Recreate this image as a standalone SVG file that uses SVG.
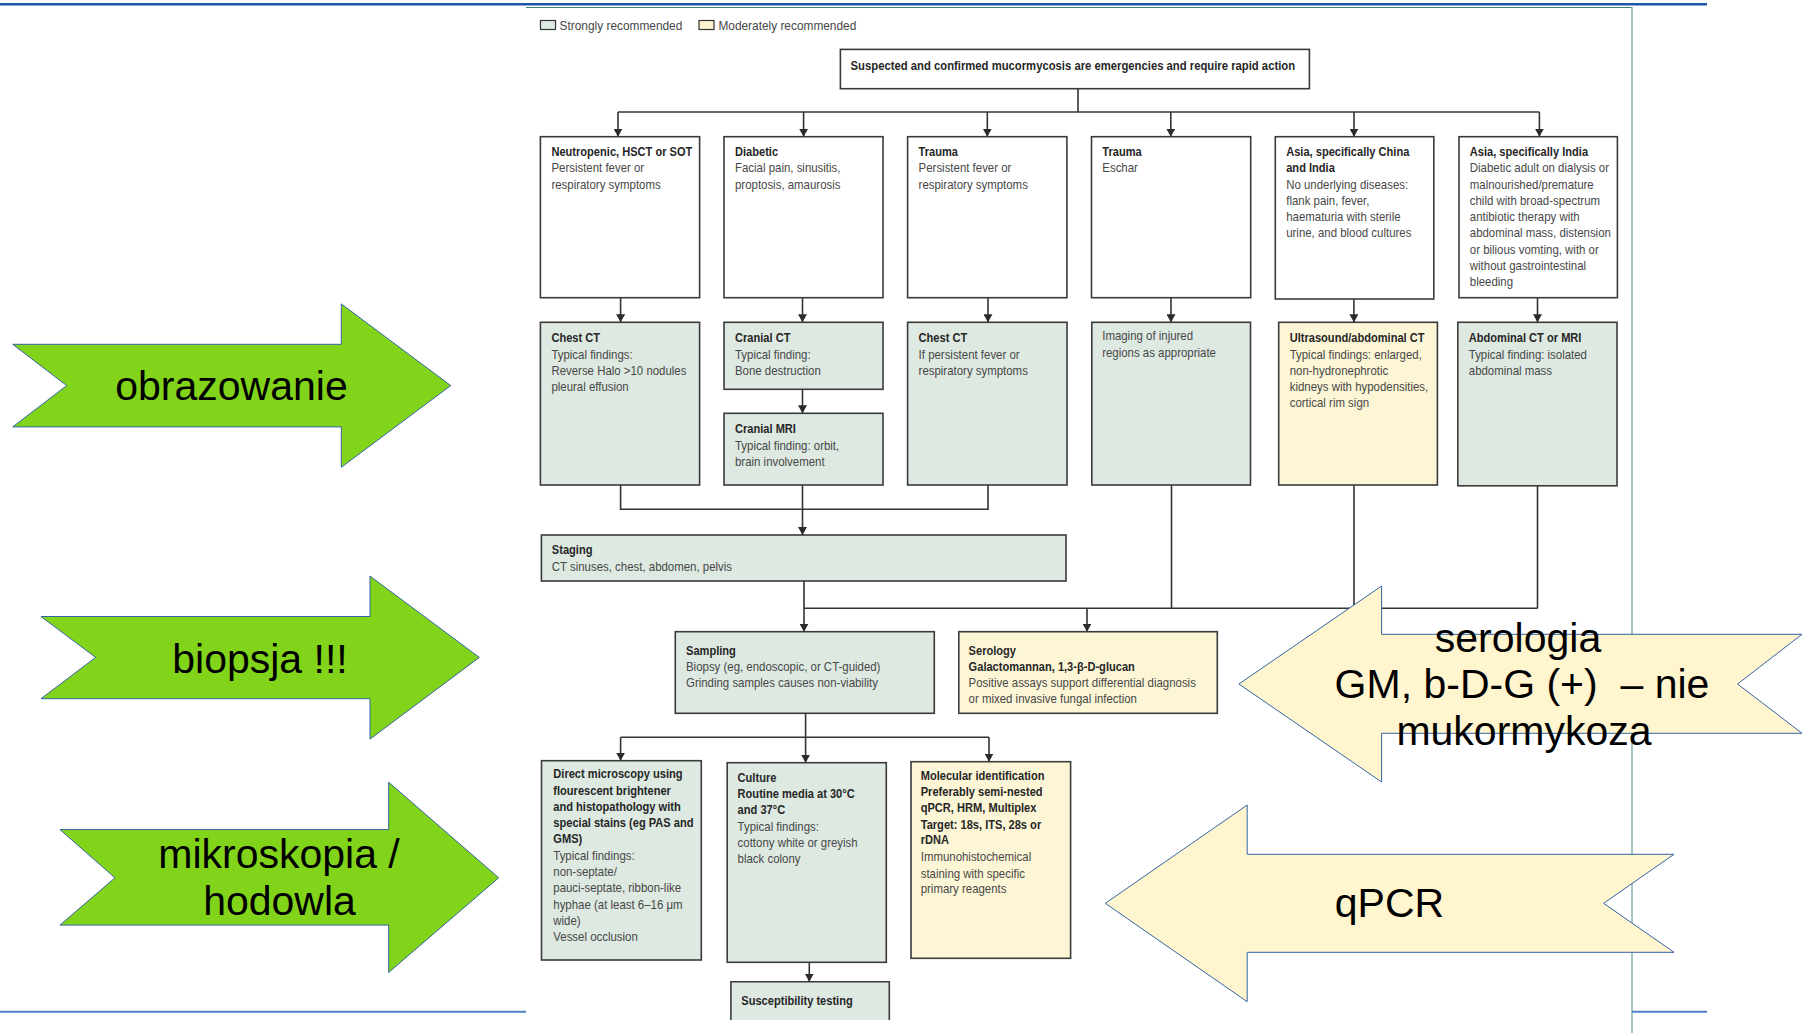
<svg xmlns="http://www.w3.org/2000/svg" width="1802" height="1033" viewBox="0 0 1802 1033">
  <defs>
    <style>
      .box{stroke:#3b3b3b;stroke-width:1.6}
      .w{fill:#ffffff}
      .g{fill:#dde9e1}
      .y{fill:#fdf6d6}
      .t{font-family:"Liberation Sans",Arial,sans-serif;font-size:13px;fill:#474747}
      .b{font-weight:bold;font-size:12.6px;fill:#262626}
      .ln{fill:none;stroke:#333333;stroke-width:1.6}
      .arr{marker-end:url(#ah)}
      .big{font-family:"Liberation Sans",Arial,sans-serif;font-size:41px;fill:#000000;text-anchor:middle}
      .ga{fill:#81d41a;stroke:#3465a4;stroke-width:1}
      .ya{fill:#fff5ce;stroke:#3465a4;stroke-width:1}
    </style>
    <marker id="ah" viewBox="0 0 8 9" refX="8" refY="4.5" markerWidth="8" markerHeight="9" markerUnits="userSpaceOnUse" orient="auto">
      <path d="M0,0 L8,4.5 L0,9 Z" fill="#2b2b2b"/>
    </marker>
  </defs>

  <rect x="0" y="0" width="1802" height="1033" fill="#ffffff"/>

  <!-- page rules and frame of the flowchart panel -->
  <g id="frame">
    <line x1="0" y1="4.3" x2="1707" y2="4.3" stroke="#1c56a6" stroke-width="2.6"/>
    <line x1="526" y1="7.5" x2="1632" y2="7.5" stroke="#3d7f6a" stroke-width="1.2"/>
    <line x1="1632" y1="7" x2="1632" y2="1033" stroke="#8ab0b2" stroke-width="1.5"/>
    <line x1="0" y1="1011.7" x2="526" y2="1011.7" stroke="#4a80c4" stroke-width="2"/>
    <line x1="1632" y1="1011.7" x2="1707" y2="1011.7" stroke="#4a80c4" stroke-width="2"/>
  </g>

  <!-- legend -->
  <g id="legend">
    <rect x="540.5" y="20.5" width="15" height="9" fill="#dfece3" stroke="#333" stroke-width="1.2"/>
    <text class="t" transform="translate(559.6,29.5) scale(.88,1)" style="font-size:13.5px">Strongly recommended</text>
    <rect x="699" y="20.5" width="15" height="9" fill="#fdf3cf" stroke="#333" stroke-width="1.2"/>
    <text class="t" transform="translate(718.4,29.5) scale(.88,1)" style="font-size:13.5px">Moderately recommended</text>
  </g>

  <!-- connectors -->
  <g id="connectors">
    <path class="ln" d="M1078,89 V112"/>
    <path class="ln" d="M618,112 H1539.4"/>
    <path class="ln arr" d="M618,112 V136.7"/>
    <path class="ln arr" d="M803.6,112 V136.7"/>
    <path class="ln arr" d="M987.3,112 V136.7"/>
    <path class="ln arr" d="M1170.8,112 V136.7"/>
    <path class="ln arr" d="M1354,112 V136.7"/>
    <path class="ln arr" d="M1539.4,112 V136.7"/>

    <path class="ln arr" d="M620.6,297.7 V322.3"/>
    <path class="ln arr" d="M802.5,297.7 V322.3"/>
    <path class="ln arr" d="M988,297.7 V322.3"/>
    <path class="ln arr" d="M1171,297.7 V322.3"/>
    <path class="ln arr" d="M1353.9,299 V322.3"/>
    <path class="ln arr" d="M1537.5,297.7 V322.3"/>

    <path class="ln arr" d="M802.5,389.3 V413.3"/>

    <path class="ln" d="M620.6,485 V509.3 H988 V485"/>
    <path class="ln arr" d="M802.5,485 V535"/>

    <path class="ln arr" d="M804,581 V631.7"/>
    <path class="ln" d="M804,608.3 H1537.5"/>
    <path class="ln" d="M1171.5,485 V608.3"/>
    <path class="ln" d="M1354,485 V608.3"/>
    <path class="ln" d="M1537.5,486 V608.3"/>
    <path class="ln arr" d="M1087,608.3 V631.7"/>

    <path class="ln arr" d="M805.6,713.3 V762.7"/>
    <path class="ln" d="M620.6,737.3 H989"/>
    <path class="ln arr" d="M620.6,737.3 V760.7"/>
    <path class="ln arr" d="M989,737.3 V761.7"/>

    <path class="ln arr" d="M809.3,962.3 V981.7"/>
  </g>

  <!-- flowchart nodes -->
  <g id="n-emergency">
    <rect class="box w" x="840.4" y="49.4" width="469" height="39.3"/>
    <text class="t b" x="850.6" y="70" style="font-size:13px" textLength="444.5" lengthAdjust="spacingAndGlyphs">Suspected and confirmed mucormycosis are emergencies and require rapid action</text>
  </g>

  <g id="n-neutropenic">
    <rect class="box w" x="540.4" y="136.7" width="159.2" height="161"/>
    <text class="t" transform="translate(551.4,156) scale(.88,1)">
      <tspan class="b" x="0" y="0">Neutropenic, HSCT or SOT</tspan>
      <tspan x="0" y="16.3">Persistent fever or</tspan>
      <tspan x="0" y="32.6">respiratory symptoms</tspan>
    </text>
  </g>
  <g id="n-diabetic">
    <rect class="box w" x="724" y="136.7" width="159" height="161"/>
    <text class="t" transform="translate(735,156) scale(.88,1)">
      <tspan class="b" x="0" y="0">Diabetic</tspan>
      <tspan x="0" y="16.3">Facial pain, sinusitis,</tspan>
      <tspan x="0" y="32.6">proptosis, amaurosis</tspan>
    </text>
  </g>
  <g id="n-trauma-fever">
    <rect class="box w" x="907.6" y="136.7" width="159.3" height="161"/>
    <text class="t" transform="translate(918.6,156) scale(.88,1)">
      <tspan class="b" x="0" y="0">Trauma</tspan>
      <tspan x="0" y="16.3">Persistent fever or</tspan>
      <tspan x="0" y="32.6">respiratory symptoms</tspan>
    </text>
  </g>
  <g id="n-trauma-eschar">
    <rect class="box w" x="1091.5" y="136.7" width="159.2" height="161"/>
    <text class="t" transform="translate(1102.3,156) scale(.88,1)">
      <tspan class="b" x="0" y="0">Trauma</tspan>
      <tspan x="0" y="16.3">Eschar</tspan>
    </text>
  </g>
  <g id="n-asia-china">
    <rect class="box w" x="1275.3" y="136.7" width="158.5" height="162.3"/>
    <text class="t" transform="translate(1286.2,156) scale(.88,1)">
      <tspan class="b" x="0" y="0">Asia, specifically China</tspan>
      <tspan class="b" x="0" y="16.3">and India</tspan>
      <tspan x="0" y="32.6">No underlying diseases:</tspan>
      <tspan x="0" y="48.9">flank pain, fever,</tspan>
      <tspan x="0" y="65.2">haematuria with sterile</tspan>
      <tspan x="0" y="81.5">urine, and blood cultures</tspan>
    </text>
  </g>
  <g id="n-asia-india">
    <rect class="box w" x="1459" y="136.7" width="158.4" height="161"/>
    <text class="t" transform="translate(1469.8,156) scale(.88,1)">
      <tspan class="b" x="0" y="0">Asia, specifically India</tspan>
      <tspan x="0" y="16.3">Diabetic adult on dialysis or</tspan>
      <tspan x="0" y="32.6">malnourished/premature</tspan>
      <tspan x="0" y="48.9">child with broad-spectrum</tspan>
      <tspan x="0" y="65.2">antibiotic therapy with</tspan>
      <tspan x="0" y="81.5">abdominal mass, distension</tspan>
      <tspan x="0" y="97.8">or bilious vomting, with or</tspan>
      <tspan x="0" y="114.1">without gastrointestinal</tspan>
      <tspan x="0" y="130.4">bleeding</tspan>
    </text>
  </g>

  <g id="n-chest-ct-1">
    <rect class="box g" x="540.4" y="322.3" width="159.2" height="162.7"/>
    <text class="t" transform="translate(551.4,342.3) scale(.88,1)">
      <tspan class="b" x="0" y="0">Chest CT</tspan>
      <tspan x="0" y="16.3">Typical findings:</tspan>
      <tspan x="0" y="32.6">Reverse Halo &gt;10 nodules</tspan>
      <tspan x="0" y="48.9">pleural effusion</tspan>
    </text>
  </g>
  <g id="n-cranial-ct">
    <rect class="box g" x="724" y="322.3" width="159" height="67"/>
    <text class="t" transform="translate(735,342.3) scale(.88,1)">
      <tspan class="b" x="0" y="0">Cranial CT</tspan>
      <tspan x="0" y="16.3">Typical finding:</tspan>
      <tspan x="0" y="32.6">Bone destruction</tspan>
    </text>
  </g>
  <g id="n-cranial-mri">
    <rect class="box g" x="724" y="413.3" width="159" height="71.7"/>
    <text class="t" transform="translate(735,433.3) scale(.88,1)">
      <tspan class="b" x="0" y="0">Cranial MRI</tspan>
      <tspan x="0" y="16.3">Typical finding: orbit,</tspan>
      <tspan x="0" y="32.6">brain involvement</tspan>
    </text>
  </g>
  <g id="n-chest-ct-2">
    <rect class="box g" x="907.6" y="322.3" width="159.4" height="162.7"/>
    <text class="t" transform="translate(918.6,342.3) scale(.88,1)">
      <tspan class="b" x="0" y="0">Chest CT</tspan>
      <tspan x="0" y="16.3">If persistent fever or</tspan>
      <tspan x="0" y="32.6">respiratory symptoms</tspan>
    </text>
  </g>
  <g id="n-imaging">
    <rect class="box g" x="1091.8" y="322.3" width="158.7" height="162.7"/>
    <text class="t" transform="translate(1102.2,340.3) scale(.88,1)">
      <tspan x="0" y="0">Imaging of injured</tspan>
      <tspan x="0" y="16.3">regions as appropriate</tspan>
    </text>
  </g>
  <g id="n-ultrasound">
    <rect class="box y" x="1278.7" y="322.3" width="158.7" height="162.7"/>
    <text class="t" transform="translate(1289.7,342.3) scale(.88,1)">
      <tspan class="b" x="0" y="0">Ultrasound/abdominal CT</tspan>
      <tspan x="0" y="16.3">Typical findings: enlarged,</tspan>
      <tspan x="0" y="32.6">non-hydronephrotic</tspan>
      <tspan x="0" y="48.9">kidneys with hypodensities,</tspan>
      <tspan x="0" y="65.2">cortical rim sign</tspan>
    </text>
  </g>
  <g id="n-abdominal">
    <rect class="box g" x="1457.8" y="322.3" width="159.2" height="163.5"/>
    <text class="t" transform="translate(1468.8,342.3) scale(.88,1)">
      <tspan class="b" x="0" y="0">Abdominal CT or MRI</tspan>
      <tspan x="0" y="16.3">Typical finding: isolated</tspan>
      <tspan x="0" y="32.6">abdominal mass</tspan>
    </text>
  </g>

  <g id="n-staging">
    <rect class="box g" x="541.4" y="535" width="524.6" height="46"/>
    <text class="t" transform="translate(551.8,554.3) scale(.88,1)">
      <tspan class="b" x="0" y="0">Staging</tspan>
      <tspan x="0" y="16.7">CT sinuses, chest, abdomen, pelvis</tspan>
    </text>
  </g>

  <g id="n-sampling">
    <rect class="box g" x="675.3" y="631.7" width="259" height="81.6"/>
    <text class="t" transform="translate(686,655) scale(.88,1)">
      <tspan class="b" x="0" y="0">Sampling</tspan>
      <tspan x="0" y="16">Biopsy (eg, endoscopic, or CT-guided)</tspan>
      <tspan x="0" y="32.3">Grinding samples causes non-viability</tspan>
    </text>
  </g>
  <g id="n-serology">
    <rect class="box y" x="958.8" y="631.7" width="258.5" height="81.6"/>
    <text class="t" transform="translate(968.6,655) scale(.88,1)">
      <tspan class="b" x="0" y="0">Serology</tspan>
      <tspan class="b" x="0" y="16">Galactomannan, 1,3-β-D-glucan</tspan>
      <tspan x="0" y="32.3">Positive assays support differential diagnosis</tspan>
      <tspan x="0" y="48.3">or mixed invasive fungal infection</tspan>
    </text>
  </g>

  <g id="n-microscopy">
    <rect class="box g" x="541.5" y="760.7" width="159.8" height="199.3"/>
    <text class="t" transform="translate(553.3,778.3) scale(.88,1)">
      <tspan class="b" x="0" y="0">Direct microscopy using</tspan>
      <tspan class="b" x="0" y="16.3">flourescent brightener</tspan>
      <tspan class="b" x="0" y="32.6">and histopathology with</tspan>
      <tspan class="b" x="0" y="48.9">special stains (eg PAS and</tspan>
      <tspan class="b" x="0" y="65.2">GMS)</tspan>
      <tspan x="0" y="81.5">Typical findings:</tspan>
      <tspan x="0" y="97.8">non-septate/</tspan>
      <tspan x="0" y="114.1">pauci-septate, ribbon-like</tspan>
      <tspan x="0" y="130.4">hyphae (at least 6–16 μm</tspan>
      <tspan x="0" y="146.7">wide)</tspan>
      <tspan x="0" y="163">Vessel occlusion</tspan>
    </text>
  </g>
  <g id="n-culture">
    <rect class="box g" x="727.2" y="762.7" width="159.1" height="199.6"/>
    <text class="t" transform="translate(737.6,782.3) scale(.88,1)">
      <tspan class="b" x="0" y="0">Culture</tspan>
      <tspan class="b" x="0" y="16.1">Routine media at 30°C</tspan>
      <tspan class="b" x="0" y="32">and 37°C</tspan>
      <tspan x="0" y="48.4">Typical findings:</tspan>
      <tspan x="0" y="64.4">cottony white or greyish</tspan>
      <tspan x="0" y="80.4">black colony</tspan>
    </text>
  </g>
  <g id="n-molecular">
    <rect class="box y" x="911" y="761.7" width="159.6" height="196.6"/>
    <text class="t" transform="translate(920.7,780) scale(.88,1)">
      <tspan class="b" x="0" y="0">Molecular identification</tspan>
      <tspan class="b" x="0" y="16.5">Preferably semi-nested</tspan>
      <tspan class="b" x="0" y="32.3">qPCR, HRM, Multiplex</tspan>
      <tspan class="b" x="0" y="49">Target: 18s, ITS, 28s or</tspan>
      <tspan class="b" x="0" y="64.3">rDNA</tspan>
      <tspan x="0" y="81">Immunohistochemical</tspan>
      <tspan x="0" y="97.7">staining with specific</tspan>
      <tspan x="0" y="113.3">primary reagents</tspan>
    </text>
  </g>
  <g id="n-susceptibility">
    <rect class="g" x="730.9" y="981.7" width="158.4" height="38.3"/>
    <path class="box" fill="none" d="M730.9,1020 V981.7 H889.3 V1020"/>
    <text class="t b" transform="translate(741.3,1005) scale(.88,1)">Susceptibility testing</text>
  </g>

  <!-- stage labels laid over the chart -->
  <g id="label-obrazowanie">
    <path class="ga" d="M12.7,344.3 H341.3 V303.9 L450.7,385.6 L341.3,467.3 V426.9 H12.7 L66.7,385.6 Z"/>
    <text class="big" x="231.5" y="400.3">obrazowanie</text>
  </g>
  <g id="label-biopsja">
    <path class="ga" d="M41,616.5 H370 V576.1 L479.3,657.4 L370,739.1 V698.7 H41 L95.7,657.4 Z"/>
    <text class="big" x="260" y="672.6">biopsja !!!</text>
  </g>
  <g id="label-mikroskopia">
    <path class="ga" d="M60,829.6 H388.7 V782.3 L498.7,877.8 L388.7,972.4 V925.1 H60 L115,877.8 Z"/>
    <text class="big" x="279" y="867.7">mikroskopia /</text>
    <text class="big" x="279.5" y="915">hodowla</text>
  </g>
  <g id="label-serologia">
    <path class="ya" d="M1238.9,684 L1381.6,586 V634.3 H1802 L1737.6,684 L1802,733.3 H1381.6 V782 Z"/>
    <text class="big" x="1518" y="651.7">serologia</text>
    <text class="big" x="1522" y="698.3" xml:space="preserve">GM, b-D-G (+)  – nie</text>
    <text class="big" x="1524" y="745">mukormykoza</text>
  </g>
  <g id="label-qpcr">
    <path class="ya" d="M1105.3,903.3 L1247.2,805 V854.3 H1674 L1603.6,903.3 L1674,952.3 H1247.2 V1001.7 Z"/>
    <text class="big" x="1389.5" y="916.7">qPCR</text>
  </g>
</svg>
